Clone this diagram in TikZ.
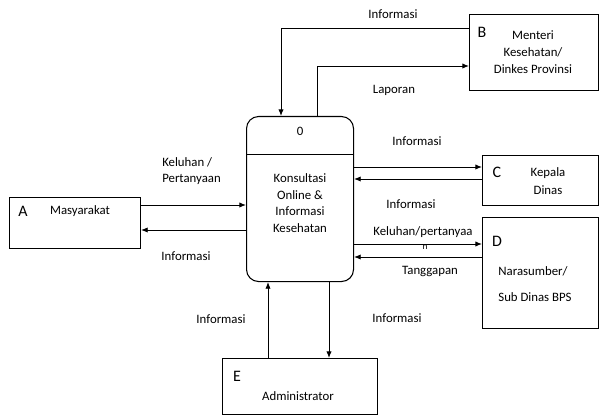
\documentclass[tikz,border=0pt]{standalone}
\usepackage{fontspec}
\setmainfont{Carlito}
\usetikzlibrary{arrows.meta,calc}
\begin{document}
\begin{tikzpicture}[x=0.75pt,y=-0.75pt,
  ent/.style={draw, line width=0.8pt, rectangle, anchor=north west, inner sep=0pt},
  proc/.style={draw, line width=0.8pt, rounded corners=9pt, anchor=north west, inner sep=0pt},
  flow/.style={line width=0.7pt, -{Latex[length=5pt,width=4pt]}},
  lbl/.style={font=\fontsize{9.6}{11.5}\selectfont, inner sep=0pt},
  txt/.style={font=\fontsize{9.6}{12.5}\selectfont, align=center, inner sep=0pt},
  tag/.style={font=\fontsize{12}{12}\selectfont, inner sep=0pt}]
\useasboundingbox (0,0) rectangle (600,417);

% external entities and the process
\node[ent, minimum width=98.25pt, minimum height=38.25pt] (A) at (9,197) {};
\node[ent, minimum width=96.75pt, minimum height=57pt] (B) at (469,14) {};
\node[ent, minimum width=87pt, minimum height=37.5pt] (C) at (482,155) {};
\node[ent, minimum width=87pt, minimum height=83.25pt] (D) at (482,217) {};
\node[ent, minimum width=116.25pt, minimum height=42pt] (E) at (222,358) {};
\node[proc, minimum width=80.25pt, minimum height=123.75pt] (P) at (246,116) {};
\draw[line width=0.6pt] (P.west |- 0,154) coordinate (Pdl) -- (P.east |- 0,154) coordinate (Pdr);

% texts inside the boxes
\node[tag] (Atag) at (23,211) {A};
\node[txt] (Atxt) at (80,211) {Masyarakat};
\node[tag] (Btag) at (482,32) {B};
\node[txt, font=\fontsize{9.6}{13}\selectfont] (Btxt) at (533,52) {Menteri\\Kesehatan/\\Dinkes Provinsi};
\node[tag] (Ctag) at (497,172) {C};
\node[txt, font=\fontsize{9.6}{13}\selectfont] (Ctxt) at (548,181) {Kepala\\Dinas};
\node[tag] (Dtag) at (497,241) {D};
\node[txt] (Dtxt1) at (533,271) {Narasumber/};
\node[txt] (Dtxt2) at (535,297) {Sub Dinas BPS};
\node[tag] (Etag) at (237,376) {E};
\node[txt] (Etxt) at (298,396) {Administrator};
\node[txt] (Pnum) at (300,131) {0};
\node[txt] (Ptxt) at (300,203) {Konsultasi\\Online \&\\Informasi\\Kesehatan};

% data flows
\draw[flow] (A.east |- 0,205) -- (P.west |- 0,205);
\draw[flow] (P.west |- 0,230) -- (A.east |- 0,230);
\draw[flow] (B.west |- 0,28) -| (P.north -| 281,0);
\draw[flow] (P.north -| 317,0) |- (B.west |- 0,66);
\draw[flow] (P.east |- 0,167) -- (C.west |- 0,167);
\draw[flow] (C.west |- 0,179) -- (P.east |- 0,179);
\draw[flow] (P.east |- 0,244) -- (D.west |- 0,244);
\draw[flow] (D.west |- 0,257) -- (P.east |- 0,257);
\draw[flow] (E.north -| 268,0) -- (P.south -| 268,0);
\draw[flow] (P.south -| 329,0) -- (E.north -| 329,0);

% flow labels
\node[lbl] (l1) at (393,14) {Informasi};
\node[lbl] (l2) at (394,90) {Laporan};
\node[lbl, anchor=west, align=left] (l3) at (162,171) {Keluhan /\\Pertanyaan};
\node[lbl] (l4) at (186,256) {Informasi};
\node[lbl] (l5) at (417,141) {Informasi};
\node[lbl] (l6) at (411,204) {Informasi};
\node[lbl] (l7) at (423,232) {Keluhan/pertanyaa};
\node[lbl, font=\fontsize{7}{8}\selectfont] (l7n) at (425,247) {n};
\node[lbl] (l8) at (430,271) {Tanggapan};
\node[lbl] (l9) at (397,318) {Informasi};
\node[lbl] (l10) at (221,319) {Informasi};
\end{tikzpicture}
\end{document}
